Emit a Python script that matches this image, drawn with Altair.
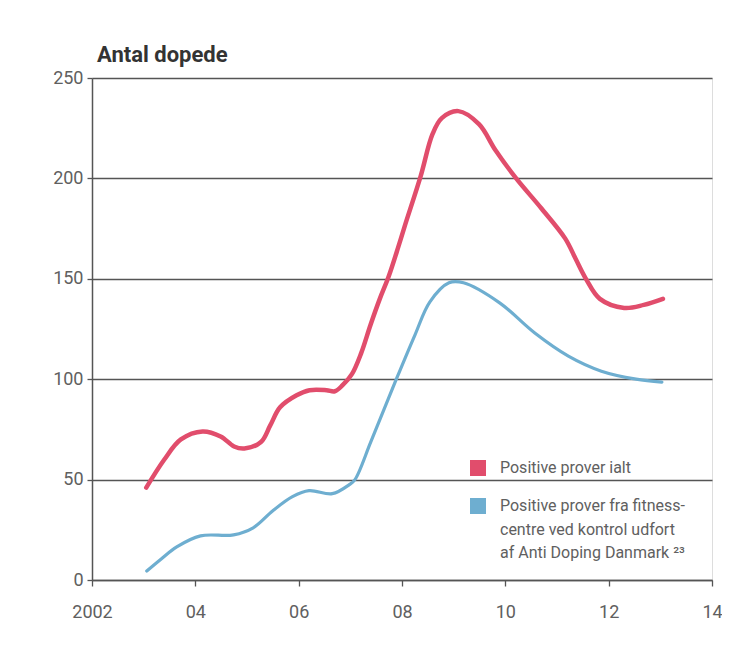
import altair as alt
import pandas as pd

series_red = "Positive prover ialt"
series_blue = "Positive prover fra fitness-\ncentre ved kontrol udfort\naf Anti Doping Danmark ²³"

red_years = [2003.05, 2003.40, 2003.72, 2004.14, 2004.49, 2004.75, 2004.95, 2005.27,
             2005.45, 2005.64, 2005.96, 2006.21, 2006.54, 2006.70, 2006.85, 2007.03,
             2007.21, 2007.39, 2007.57, 2007.74, 2007.93, 2008.05, 2008.36, 2008.59,
             2008.77, 2009.09, 2009.49, 2009.81, 2010.21, 2010.70, 2011.16, 2011.36,
             2011.56, 2011.83, 2012.30, 2012.68, 2013.05]
red_values = [46, 60, 70, 74, 71.5, 66.5, 65.5, 68.7,
              77, 86, 92, 94.5, 94.5, 94, 97, 102.5,
              113, 127, 140, 151, 166, 176, 201, 222,
              230, 233.5, 227, 214, 200, 185, 170, 160,
              150, 140, 135.5, 137, 140]

blue_years = [2003.06, 2003.34, 2003.64, 2004.10, 2004.74, 2005.12, 2005.50, 2005.88,
              2006.20, 2006.65, 2006.98, 2007.09, 2007.40, 2007.89, 2008.25, 2008.54,
              2008.91, 2009.19, 2009.89, 2010.57, 2011.22, 2011.86, 2012.53, 2013.03]
blue_values = [4.5, 10.5, 16.5, 22, 22.5, 26, 34.5, 41.5,
               44.5, 43, 47.5, 50, 69, 100, 122, 138.5,
               148, 148, 138, 123, 111.5, 104, 100, 98.5]

x_ticks = [2002, 2004, 2006, 2008, 2010, 2012, 2014]
y_ticks = [0, 50, 100, 150, 200, 250]

color_domain = [series_red, series_blue]
color_range = ["#e14d6c", "#6eaed0"]
width_range = [4.5, 3.2]

df = pd.DataFrame({
    "year": red_years + blue_years,
    "value": red_values + blue_values,
    "series": [series_red] * len(red_years) + [series_blue] * len(blue_years),
})
df["entry"] = df["series"]

FONT = "Roboto"
GRAY = "#555555"
LABEL_GRAY = "#606060"

x_enc = alt.X(
    "year:Q",
    scale=alt.Scale(domain=[2002, 2014], nice=False, zero=False),
    axis=alt.Axis(
        values=x_ticks, title=None, grid=False,
        labelExpr="datum.value == 2002 ? '2002' : substring(toString(datum.value), 2)",
        tickSize=6, labelPadding=17, labelFontSize=18, labelColor=LABEL_GRAY,
        labelFont=FONT, labelFlush=False, domainColor=GRAY, tickColor=GRAY,
        domainWidth=1.5, tickWidth=1.3,
    ),
)
y_enc = alt.Y(
    "value:Q",
    scale=alt.Scale(domain=[0, 250], nice=False),
    axis=alt.Axis(
        values=y_ticks, title=None, grid=True, gridColor=GRAY, gridWidth=1.3,
        tickSize=5, labelPadding=4, labelFontSize=18, labelColor=LABEL_GRAY,
        labelFont=FONT, domainColor=GRAY, tickColor=GRAY, domainWidth=1.5,
        tickWidth=1.3, labelFlush=False,
    ),
)

lines = alt.Chart(df).mark_line(interpolate="catmull-rom", strokeCap="round").encode(
    x=x_enc,
    y=y_enc,
    color=alt.Color(
        "series:N",
        scale=alt.Scale(domain=color_domain, range=color_range),
        legend=None,
    ),
    strokeWidth=alt.StrokeWidth(
        "series:N",
        scale=alt.Scale(domain=color_domain, range=width_range),
        legend=None,
    ),
)

legend_layer = alt.Chart(df).transform_filter("datum.value < 0").mark_point(
    filled=True, shape="square", opacity=1
).encode(
    x=x_enc,
    y=y_enc,
    fill=alt.Fill(
        "entry:N",
        scale=alt.Scale(domain=color_domain, range=color_range),
        legend=alt.Legend(
            title=None, orient="none", legendX=378, legendY=382,
            symbolType="square", symbolSize=256, symbolStrokeWidth=0,
            labelFont=FONT, labelFontSize=16, labelColor=LABEL_GRAY, labelLimit=400,
            labelOffset=14, rowPadding=22,
            labelExpr="split(datum.label, '\\n')",
        ),
    ),
)

chart = alt.layer(lines, legend_layer).properties(
    width=620,
    height=502,
    title=alt.TitleParams(
        "Antal dopede", anchor="start", frame="group", fontSize=22,
        fontWeight="bold", font=FONT, color="#333333", dx=5, offset=2,
    ),
    autosize=alt.AutoSizeParams(type="none"),
    padding={"left": 84, "top": 70, "right": 10, "bottom": 60},
).resolve_legend(color="independent", fill="independent").configure_view(stroke=None).configure(
    background="white",
    style={"guide-label": {"lineHeight": 23.5}},
)

chart.save("out.html", embed_options={"renderer": "svg", "actions": False})
